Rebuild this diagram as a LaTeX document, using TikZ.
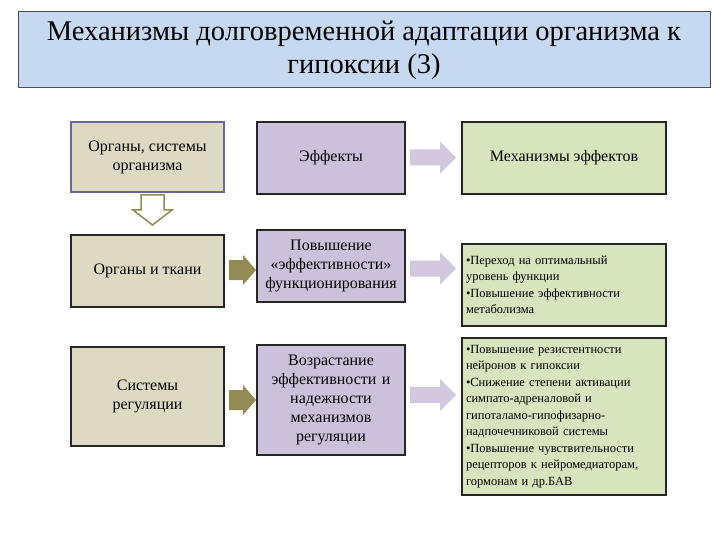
\documentclass[tikz,border=0pt]{standalone}
\usepackage{fontspec}
\setmainfont{Liberation Serif}
\definecolor{tan}{HTML}{DDD9C3}
\definecolor{lav}{HTML}{CCC1DA}
\definecolor{grn}{HTML}{D7E4BD}
\definecolor{ttl}{HTML}{C6D9F1}
\definecolor{arr}{HTML}{948A54}
\tikzset{
 bx/.style={draw=black!85,line width=1.8pt,align=center,inner sep=2pt,font=\fontsize{16}{19}\selectfont},
 lbx/.style={bx,fill=tan,minimum width=153pt},
 mbx/.style={bx,fill=lav,minimum width=148pt,text width=140pt},
 rbx/.style={bx,fill=grn,minimum width=204pt,text width=196pt,align=left,font=\fontsize{12.5}{16.5}\selectfont},
 larrow/.pic={\fill[lav!90!white] (0,-8) -- (30,-8) -- (30,-16) -- (46,0) -- (30,16) -- (30,8) -- (0,8) -- cycle;},
 tarrow/.pic={\fill[arr] (0,-10) -- (14,-10) -- (14,-15) -- (27,0) -- (14,15) -- (14,10) -- (0,10) -- cycle;},
}
\begin{document}
\begin{tikzpicture}[x=1pt,y=-1pt]
\useasboundingbox (0,0) rectangle (720,540);
\node[draw=black!70,line width=1pt,fill=ttl,minimum width=692pt,minimum height=76pt,align=center,font=\fontsize{28.5}{33}\selectfont] (t) at (364,50) {Механизмы долговременной адаптации организма к\\гипоксии (3)};
\node[lbx,draw=black!60!blue!60,minimum height=70pt] (l1) at (147.5,157) {Органы, системы\\организма};
\node[lbx,minimum height=72pt] (l2) at (147.5,271) {Органы и ткани};
\node[lbx,minimum height=99pt] (l3) at (147.5,396.5) {Системы\\регуляции};
\node[mbx,minimum height=72pt] (m1) at (331,158) {Эффекты};
\node[mbx,minimum height=72pt] (m2) at (331,266) {Повышение\\«эффективности»\\функционирования};
\node[mbx,minimum height=110pt] (m3) at (331,400) {Возрастание\\эффективности и\\надежности\\механизмов\\регуляции};
\node[bx,fill=grn,minimum width=204pt,minimum height=72pt] (r1) at (564,158) {Механизмы эффектов};
\node[rbx,minimum height=82pt] (r2) at (564,285) {•Переход на оптимальный\\уровень функции\\•Повышение эффективности\\метаболизма};
\node[rbx,minimum height=157pt] (r3) at (564,416.5) {•Повышение резистентности\\нейронов к гипоксии\\•Снижение степени активации\\симпато-адреналовой и\\гипоталамо-гипофизарно-\\надпочечниковой системы\\•Повышение чувствительности\\рецепторов к нейромедиаторам,\\гормонам и др.БАВ};
\draw[arr,line width=1.5pt,fill=white] (141,195) -- (164,195) -- (164,210) -- (172,210) -- (152.5,225) -- (133,210) -- (141,210) -- cycle;
\pic at (229,270) {tarrow};
\pic at (229,400) {tarrow};
\pic at (410,157.5) {larrow};
\pic at (410,268.5) {larrow};
\pic at (410,395) {larrow};
\end{tikzpicture}
\end{document}
